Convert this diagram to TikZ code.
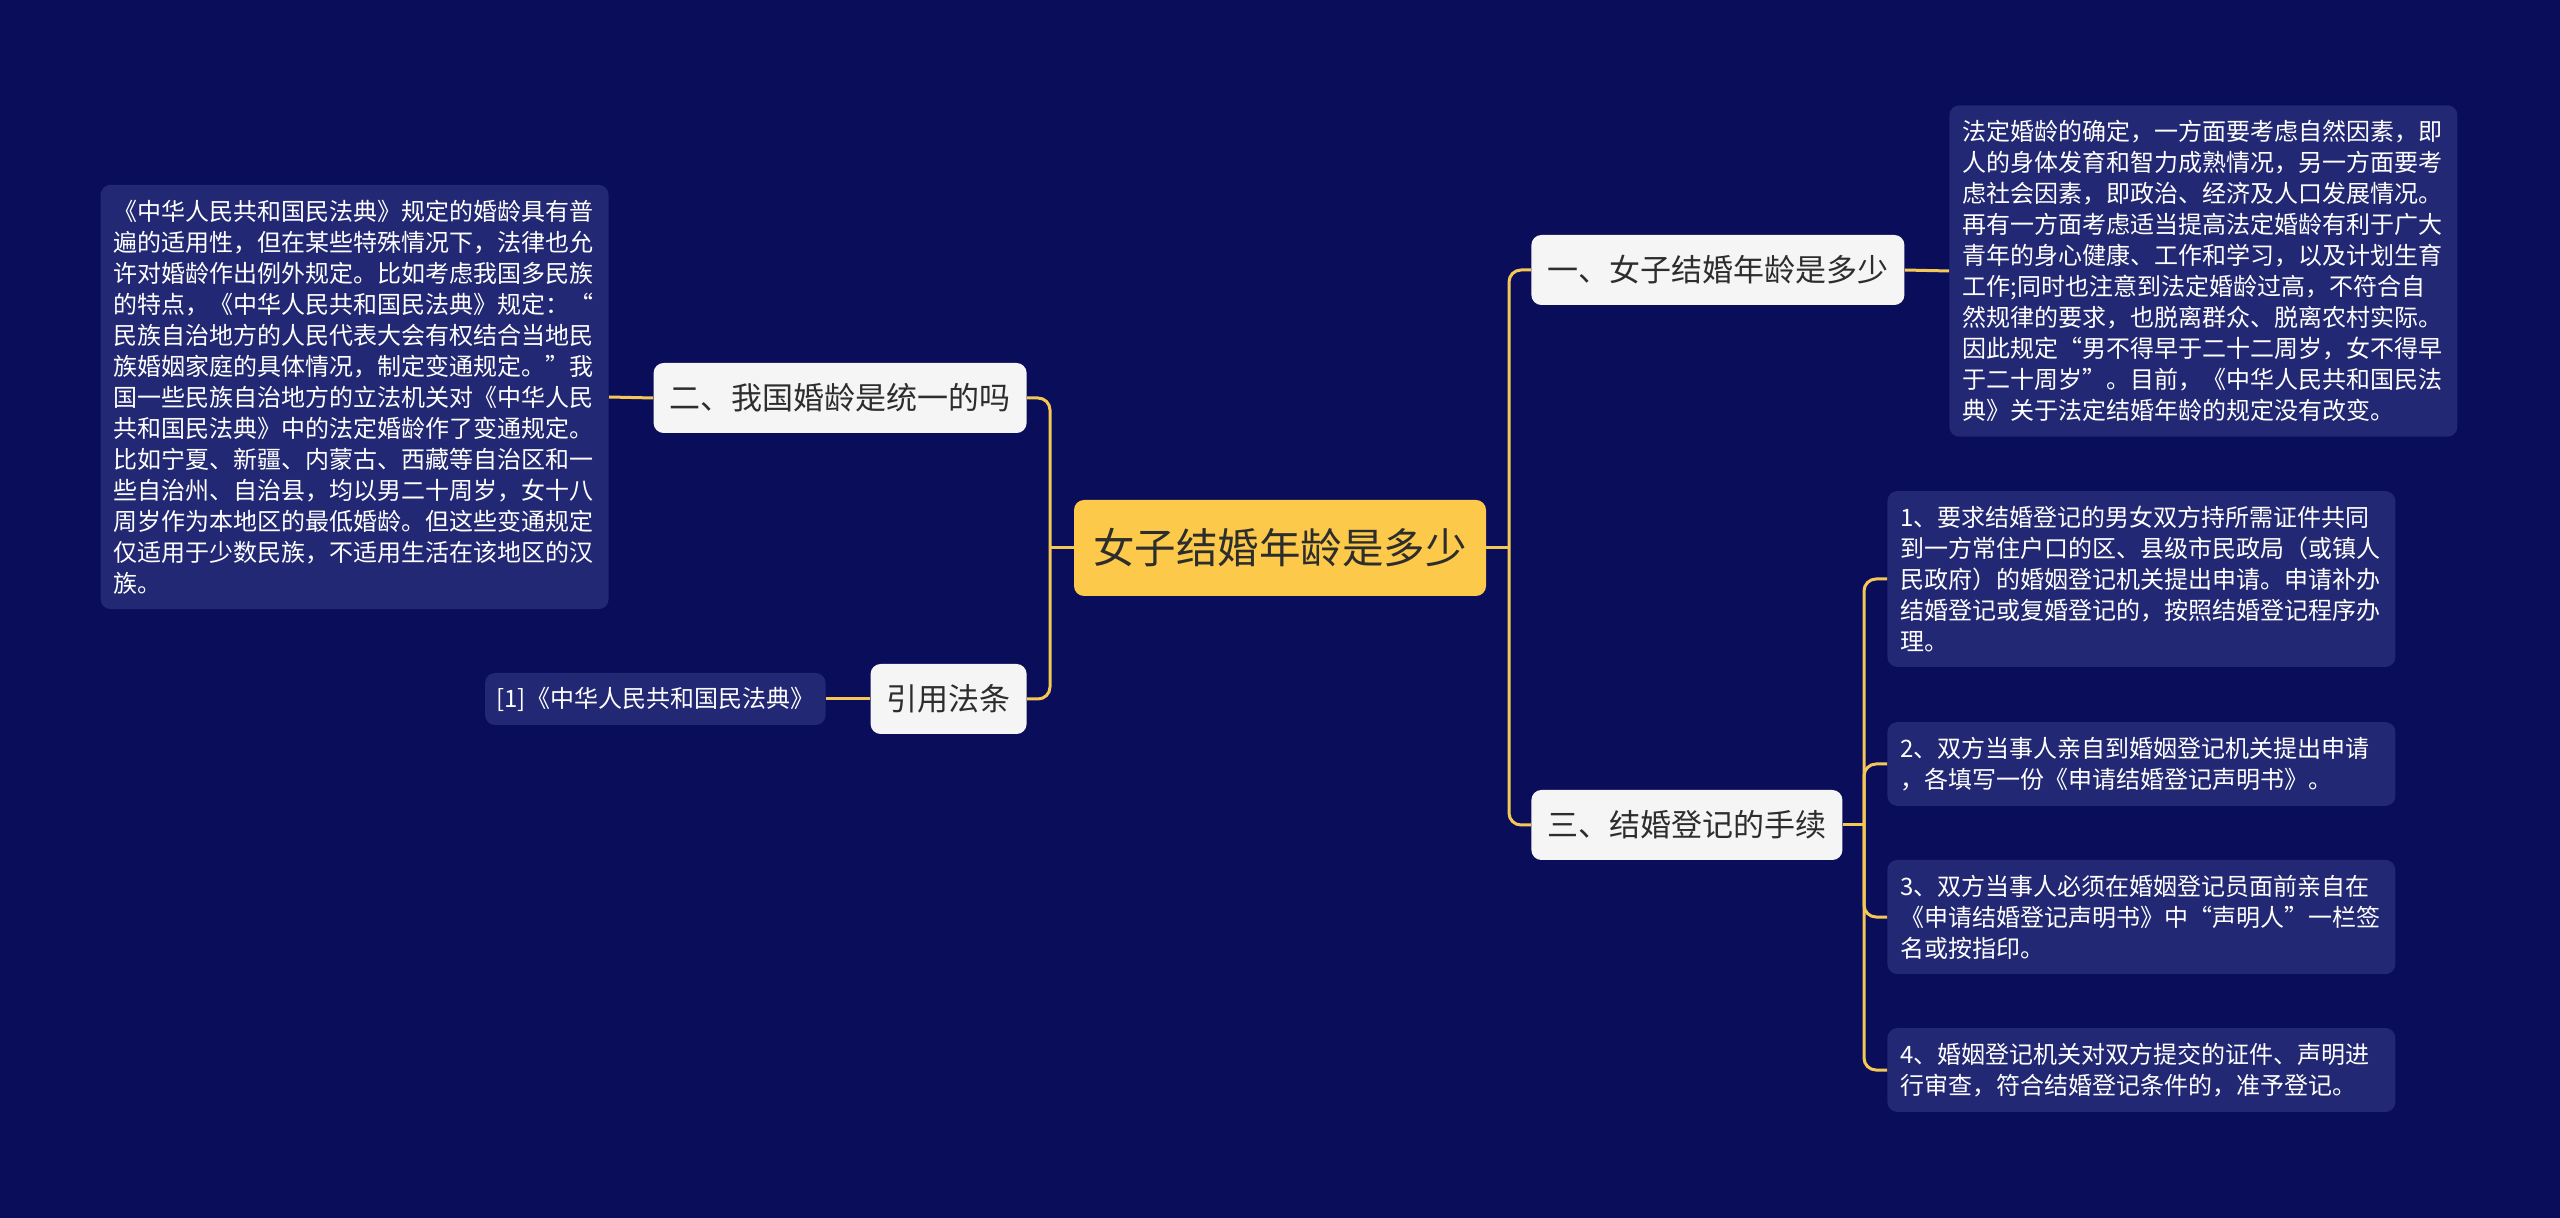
\documentclass[tikz,border=0pt]{standalone}
\usepackage{fontspec}
\setmainfont{Noto Sans CJK SC}
\usepackage{tikz}
\usetikzlibrary{calc,positioning}

\definecolor{bgnavy}{RGB}{10,13,90}
\definecolor{descblue}{RGB}{34,40,115}
\definecolor{linegold}{RGB}{245,200,85}
\definecolor{rootyellow}{RGB}{252,201,74}
\definecolor{nodewhite}{RGB}{245,245,245}
\definecolor{textdark}{RGB}{45,45,45}

\begin{document}
\begin{tikzpicture}[x=0.5pt,y=-0.5pt]
  \tikzset{
    rootbox/.style={
      fill=rootyellow, rounded corners=5pt, text=textdark,
      font=\fontsize{20.75}{24}\selectfont,
      minimum width=206pt, minimum height=48pt, inner xsep=9pt
    },
    titlebox/.style={
      fill=nodewhite, rounded corners=5pt, text=textdark,
      font=\fontsize{15.5}{18}\selectfont,
      minimum height=35pt, inner xsep=8pt
    },
    descbox/.style={
      fill=descblue, rounded corners=5pt, text=white,
      font=\fontsize{12}{15.5}\selectfont,
      text width=241pt, align=left, inner xsep=6.5pt, inner ysep=7.5pt
    },
    lawbox/.style={
      fill=descblue, rounded corners=5pt, text=white,
      font=\fontsize{12}{15.5}\selectfont,
      minimum height=26pt, inner xsep=5.75pt
    },
    link/.style={draw=linegold, line width=1.5pt, rounded corners=6pt},
  }
  \fill[bgnavy] (0,0) rectangle (2560,1218);
  \useasboundingbox (0,0) rectangle (2560,1218);

  \node[rootbox] (root) at (1280,548) {女子结婚年龄是多少};

  \node[titlebox,anchor=west] (q1) at (1531,270) {一、女子结婚年龄是多少};
  \node[titlebox,anchor=west] (q3) at (1531,825) {三、结婚登记的手续};
  \node[titlebox,anchor=east] (q2) at (1027,398) {二、我国婚龄是统一的吗};
  \node[titlebox,anchor=east] (cite) at (1027,699) {引用法条};

  \node[descbox,anchor=west] (d1) at (1949,271) {法定婚龄的确定，一方面要考虑自然因素，即\\
    人的身体发育和智力成熟情况，另一方面要考\\
    虑社会因素，即政治、经济及人口发展情况。\\
    再有一方面考虑适当提高法定婚龄有利于广大\\
    青年的身心健康、工作和学习，以及计划生育\\
    工作;同时也注意到法定婚龄过高，不符合自\\
    然规律的要求，也脱离群众、脱离农村实际。\\
    因此规定“男不得早于二十二周岁，女不得早\\
    于二十周岁”。目前，《中华人民共和国民法\\
    典》关于法定结婚年龄的规定没有改变。};

  \node[descbox,anchor=east] (d2) at (609,397) {《中华人民共和国民法典》规定的婚龄具有普\\
    遍的适用性，但在某些特殊情况下，法律也允\\
    许对婚龄作出例外规定。比如考虑我国多民族\\
    的特点，《中华人民共和国民法典》规定：“\\
    民族自治地方的人民代表大会有权结合当地民\\
    族婚姻家庭的具体情况，制定变通规定。”我\\
    国一些民族自治地方的立法机关对《中华人民\\
    共和国民法典》中的法定婚龄作了变通规定。\\
    比如宁夏、新疆、内蒙古、西藏等自治区和一\\
    些自治州、自治县，均以男二十周岁，女十八\\
    周岁作为本地区的最低婚龄。但这些变通规定\\
    仅适用于少数民族，不适用生活在该地区的汉\\
    族。};

  \node[lawbox,anchor=east] (law) at (826,699) {[1]《中华人民共和国民法典》};

  \node[descbox,anchor=west] (s1) at (1887,579) {1、要求结婚登记的男女双方持所需证件共同\\
    到一方常住户口的区、县级市民政局（或镇人\\
    民政府）的婚姻登记机关提出申请。申请补办\\
    结婚登记或复婚登记的，按照结婚登记程序办\\
    理。};
  \node[descbox,anchor=west] (s2) at (1887,764) {2、双方当事人亲自到婚姻登记机关提出申请\\
    ，各填写一份《申请结婚登记声明书》。};
  \node[descbox,anchor=west] (s3) at (1887,917) {3、双方当事人必须在婚姻登记员面前亲自在\\
    《申请结婚登记声明书》中“声明人”一栏签\\
    名或按指印。};
  \node[descbox,anchor=west] (s4) at (1887,1070) {4、婚姻登记机关对双方提交的证件、声明进\\
    行审查，符合结婚登记条件的，准予登记。};

  \coordinate (jl) at (1050,548);
  \coordinate (jr) at (1509,548);
  \coordinate (j3) at (1864,825);

  \draw[link] (root.west) -- (jl);
  \draw[link] (jl) |- (q2.east);
  \draw[link] (jl) |- (cite.east);
  \draw[link] (root.east) -- (jr);
  \draw[link] (jr) |- (q1.west);
  \draw[link] (jr) |- (q3.west);
  \draw[link] (q1.east) -- (d1.west);
  \draw[link] (q2.west) -- (d2.east);
  \draw[link] (cite.west) -- (law.east);
  \draw[link] (q3.east) -- (j3);
  \foreach \s in {s1,s2,s3,s4}
    \draw[link] (j3) |- (\s.west);
\end{tikzpicture}
\end{document}
